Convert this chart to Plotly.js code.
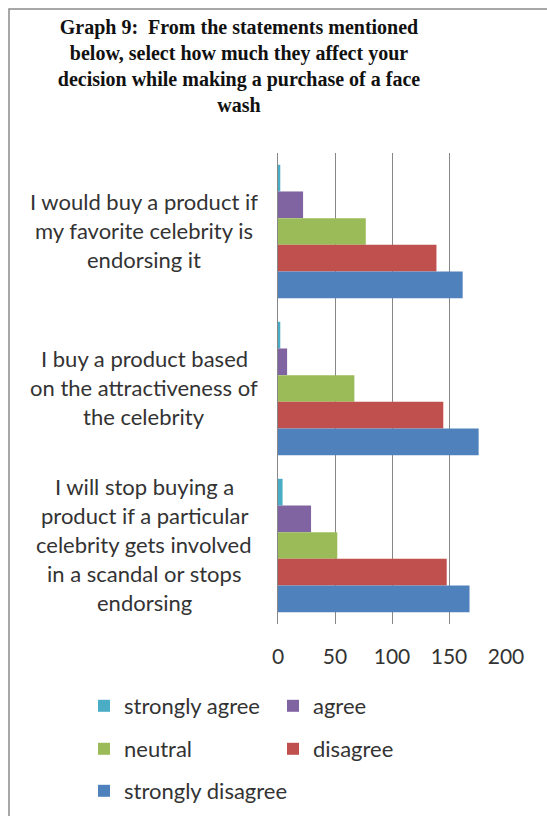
<!DOCTYPE html>
<html><head><meta charset="utf-8">
<script src="https://cdn.plot.ly/plotly-3.0.1.min.js"></script>
<style>html,body{margin:0;padding:0;background:#fff}#chart{width:547px;height:816px}</style>
</head><body><div id="chart"></div>
<script>
const categories = [
  "I would buy a product if<br>my favorite celebrity is<br>endorsing it",
  "I buy a product based<br>on the attractiveness of<br>the celebrity",
  "I will stop buying a<br>product if a particular<br>celebrity gets involved<br>in a scandal or stops<br>endorsing"
];
const seriesNames = ["strongly agree", "agree", "neutral", "disagree", "strongly disagree"];
const stronglyAgree = [2, 2, 4];
const agree = [22, 8, 29];
const neutral = [77, 67, 52];
const disagree = [139, 145, 148];
const stronglyDisagree = [162, 176, 168];
const xTickVals = [0, 50, 100, 150, 200];
const titleText = "Graph 9:  From the statements mentioned<br>below, select how much they affect your<br>decision while making a purchase of a face<br>wash";

const colors = ["#4BACC6", "#8064A2", "#9BBB59", "#C0504D", "#4F81BD"];
const legendIds = ["legend", "legend", "legend2", "legend2", "legend3"];
const values = [stronglyAgree, agree, neutral, disagree, stronglyDisagree];

const W = 547, H = 816;
const L = 278, R = 41, T = 153, B = 192;
const pw = W - L - R, ph = H - T - B;
const textFont = {family: "Lato, 'Open Sans', sans-serif", size: 22, color: "#333333"};
const tickFont = {family: "Lato, 'Open Sans', sans-serif", size: 21, color: "#333333"};

const traces = values.map((v, i) => ({
  type: "bar", orientation: "h",
  name: seriesNames[i], x: v, y: categories,
  marker: {color: colors[i], line: {width: 0}},
  legend: legendIds[i],
  hoverinfo: "skip"
}));

const annotations = [];
categories.forEach(c => {
  const lines = c.split("<br>");
  const n = lines.length;
  lines.forEach((ln, i) => {
    annotations.push({
      xref: "paper", yref: "y",
      x: (144 - L) / pw, y: c,
      text: ln, showarrow: false,
      xanchor: "center", yanchor: "middle",
      yshift: ((n - 1) / 2 - i) * 29 + 1,
      font: textFont
    });
  });
});

const legendBase = {
  orientation: "h", xanchor: "left", yanchor: "middle",
  x: (84 - L) / pw, entrywidth: 144, entrywidthmode: "pixels",
  font: textFont, bgcolor: "rgba(0,0,0,0)", borderwidth: 0,
  itemclick: false, itemdoubleclick: false
};
const ly = px => (H - B - px) / ph;

const layout = {
  width: W, height: H,
  margin: {l: L, r: R, t: T, b: B, pad: 0, autoexpand: false},
  paper_bgcolor: "#ffffff", plot_bgcolor: "#ffffff",
  barmode: "group", bargap: 0.15, bargroupgap: 0,
  title: {
    text: titleText, automargin: false,
    xref: "container", x: 239 / W, xanchor: "center",
    yref: "container", y: 1 - 34 / H, yanchor: "top",
    font: {family: "'Liberation Serif', 'Times New Roman', serif", size: 20, color: "#111111", weight: "bold"}
  },
  xaxis: {
    range: [0, 200], tickvals: xTickVals, showgrid: true, automargin: false,
    gridcolor: "#878787", gridwidth: 1, zeroline: false, showline: false,
    ticks: "", ticklabelstandoff: 18, tickfont: tickFont, fixedrange: true
  },
  yaxis: {
    type: "category", autorange: "reversed", showticklabels: false, automargin: false,
    showline: true, linecolor: "#878787", linewidth: 1, ticks: "", showgrid: false, fixedrange: true
  },
  showlegend: true,
  legend: Object.assign({}, legendBase, {y: ly(706)}),
  legend2: Object.assign({}, legendBase, {y: ly(749)}),
  legend3: Object.assign({}, legendBase, {y: ly(791), entrywidth: 300}),
  annotations: annotations,
  shapes: [{
    type: "rect", xref: "paper", yref: "paper",
    x0: (9 - L) / pw, x1: (W + 20 - L) / pw,
    y0: (H - B - (H + 20)) / ph, y1: (H - B - 9) / ph,
    line: {color: "#8c8c8c", width: 1.5}, fillcolor: "rgba(0,0,0,0)", layer: "below"
  }]
};

Plotly.newPlot("chart", traces, layout, {displayModeBar: false, staticPlot: true});
</script>
</body></html>
